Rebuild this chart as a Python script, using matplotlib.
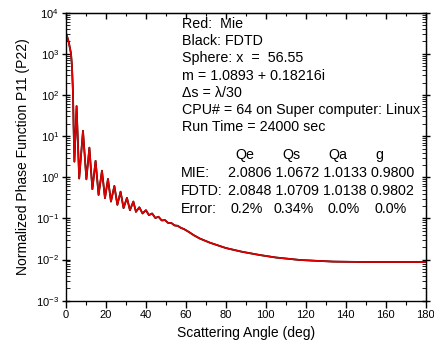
import numpy as np
import matplotlib
matplotlib.use("Agg")
import matplotlib.pyplot as plt
from matplotlib.ticker import LogLocator, NullFormatter, MultipleLocator

plt.rcParams['font.family'] = ['Liberation Sans', 'DejaVu Sans']
plt.rcParams['mathtext.fontset'] = 'custom'
plt.rcParams['mathtext.rm'] = 'Liberation Sans'
plt.rcParams['mathtext.it'] = 'Liberation Sans:italic'

# Data (log10 of the phase function)
angle_deg = [0, 1.3, 2.5, 3.0, 3.5, 3.8, 4.2, 5.3, 6.6, 8.5, 10.2, 11.7, 13.2, 14.8,
             16.3, 18.0, 19.5, 21.0, 22.5, 24.2, 25.7, 27.3, 28.8, 30.5, 32.0, 33.7,
             35.0, 36.7, 38.3, 40.0, 41.5, 43.1, 44.7, 46.3, 47.9, 49.5, 51.1, 52.7,
             54.3, 55.9, 57.5, 59.1, 61.5, 64, 67, 72, 80, 88, 97, 105, 117, 125, 134,
             150, 165, 180]
mie_log = [3.51, 3.30, 3.01, 2.69, 2.04, 1.23, 0.38, 1.73, -0.03, 1.13, -0.05, 0.72,
           -0.29, 0.40, -0.43, 0.16, -0.51, -0.04, -0.59, -0.21, -0.67, -0.35, -0.75,
           -0.50, -0.80, -0.59, -0.84, -0.73, -0.88, -0.80, -0.92, -0.88, -0.99, -0.96,
           -1.05, -1.04, -1.11, -1.11, -1.17, -1.18, -1.23, -1.26, -1.33, -1.41, -1.49,
           -1.59, -1.72, -1.81, -1.89, -1.95, -2.01, -2.03, -2.05, -2.06, -2.06, -2.06]
fdtd_log = list(mie_log)

info_lines = ["Red:  Mie", "Black: FDTD", "Sphere: x  =  56.55", "m = 1.0893 + 0.18216i",
              "\u0394s = \u03bb/30", "CPU# = 64 on Super computer: Linux", "Run Time = 24000 sec"]
col_heads = ["Qe", "Qs", "Qa", "g"]
row_names = ["MIE:", "FDTD:", "Error:"]
mie_q = "2.0806 1.0672 1.0133 0.9800"
fdtd_q = "2.0848 1.0709 1.0138 0.9802"
err_q = ["0.2%", "0.34%", "0.0%", "0.0%"]
xticks = [0, 20, 40, 60, 80, 100, 120, 140, 160, 180]

W, H = 435, 350
fig = plt.figure(figsize=(W / 100, H / 100), dpi=100)
L, R, T, B = 66, 425.7, 12.7, 300.7
ax = fig.add_axes([L / W, 1 - B / H, (R - L) / W, (B - T) / H])

x = np.array(angle_deg)
ax.semilogy(x, 10 ** np.array(fdtd_log), color='black', lw=1.3, solid_joinstyle='round')
ax.semilogy(x, 10 ** np.array(mie_log), color='#e00000', lw=1.2, solid_joinstyle='round')

ax.set_xlim(0, 180)
ax.set_ylim(1e-3, 1e4)
ax.set_xticks(xticks)
ax.xaxis.set_minor_locator(MultipleLocator(10))
ax.yaxis.set_minor_locator(LogLocator(base=10, subs=np.arange(2, 10), numticks=20))
ax.yaxis.set_minor_formatter(NullFormatter())
ax.set_yticks([10.0 ** k for k in range(-3, 5)])
ax.set_yticklabels([f"$10^{{{k}}}$" for k in range(-3, 5)])

for s in ax.spines.values():
    s.set_linewidth(1.0)
ax.tick_params(axis='x', which='major', direction='out', length=5, width=1, labelsize=8, pad=2, top=False)
ax.tick_params(axis='x', which='minor', direction='out', length=3, width=0.8, top=False)
ax.tick_params(axis='y', which='major', direction='inout', length=6, width=1, labelsize=8, pad=2, right=False)
ax.tick_params(axis='y', which='minor', direction='in', length=3, width=0.6, right=False)

secx = ax.secondary_xaxis('top')
secx.set_xticks(xticks)
secx.xaxis.set_minor_locator(MultipleLocator(10))
secx.tick_params(which='major', direction='in', length=4, width=1, labeltop=False)
secx.tick_params(which='minor', direction='in', length=2.5, width=0.8)
secx.set_xticklabels([])

secy = ax.secondary_yaxis('right')
secy.set_yticks([10.0 ** k for k in range(-3, 5)])
secy.yaxis.set_minor_locator(LogLocator(base=10, subs=np.arange(2, 10), numticks=20))
secy.yaxis.set_minor_formatter(NullFormatter())
secy.tick_params(which='major', direction='inout', length=6, width=1, labelright=False)
secy.tick_params(which='minor', direction='in', length=3, width=0.6)
secy.set_yticklabels([])

ax.set_xlabel("Scattering Angle (deg)", fontsize=10, labelpad=4)
ax.set_ylabel("Normalized Phase Function P11 (P22)", fontsize=10, labelpad=4)


def px(xp, yp):
    return xp / W, 1 - yp / H


tx = 182
for i, line in enumerate(info_lines):
    fig.text(*px(tx, 24 + i * 17.2), line, fontsize=10.3, va='center', ha='left')

for name, xp in zip(col_heads, [235, 282, 328, 375]):
    fig.text(*px(xp, 155), name, fontsize=10.3, va='center', ha='left')
for i, name in enumerate(row_names):
    fig.text(*px(181, 173.3 + i * 18), name, fontsize=10.3, va='center', ha='left')
fig.text(*px(228, 173.3), mie_q, fontsize=10.3, va='center', ha='left')
fig.text(*px(228, 191.3), fdtd_q, fontsize=10.3, va='center', ha='left')
for s, xp in zip(err_q, [231, 273, 328, 375]):
    fig.text(*px(xp, 209.3), s, fontsize=10.3, va='center', ha='left')

fig.savefig("out.png", dpi=100)
